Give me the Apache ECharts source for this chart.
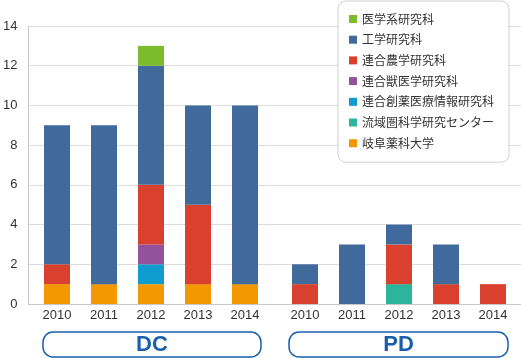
<!DOCTYPE html>
<html>
<head>
<meta charset="utf-8">
<script src="https://cdn.jsdelivr.net/npm/echarts@6/dist/echarts.min.js"></script>
<style>
html,body{margin:0;padding:0;background:#fff;}
#c{width:521px;height:358px;}
</style>
</head>
<body>
<div id="c"></div>
<script>
// ---- data ----
const years = ['2010', '2011', '2012', '2013', '2014'];
const groups = ['DC', 'PD'];
const yTicks = [0, 2, 4, 6, 8, 10, 12, 14];
// legend order (top to bottom)
const legendNames = ['医学系研究科', '工学研究科', '連合農学研究科', '連合獣医学研究科', '連合創薬医療情報研究科', '流域圏科学研究センター', '岐阜薬科大学'];
// stack order (bottom to top)
const stackNames = ['岐阜薬科大学', '流域圏科学研究センター', '連合創薬医療情報研究科', '連合獣医学研究科', '連合農学研究科', '工学研究科', '医学系研究科'];
const colors = {
  '医学系研究科': '#7cbb2c',
  '工学研究科': '#3f6a9b',
  '連合農学研究科': '#d9402d',
  '連合獣医学研究科': '#93529b',
  '連合創薬医療情報研究科': '#0f9ccf',
  '流域圏科学研究センター': '#2bb59c',
  '岐阜薬科大学': '#f39800'
};
// DC values by institution (2010..2014)
const dcGifuPharm  = [1, 1, 1, 1, 1];
const dcRyuiki     = [0, 0, 0, 0, 0];
const dcSoyaku     = [0, 0, 1, 0, 0];
const dcJui        = [0, 0, 1, 0, 0];
const dcNogaku     = [1, 0, 3, 4, 0];
const dcKogaku     = [7, 8, 6, 5, 9];
const dcIgaku      = [0, 0, 1, 0, 0];
// PD values by institution (2010..2014)
const pdGifuPharm  = [0, 0, 0, 0, 0];
const pdRyuiki     = [0, 0, 1, 0, 0];
const pdSoyaku     = [0, 0, 0, 0, 0];
const pdJui        = [0, 0, 0, 0, 0];
const pdNogaku     = [1, 0, 2, 1, 1];
const pdKogaku     = [1, 3, 1, 2, 0];
const pdIgaku      = [0, 0, 0, 0, 0];

const dcData = [dcGifuPharm, dcRyuiki, dcSoyaku, dcJui, dcNogaku, dcKogaku, dcIgaku];
const pdData = [pdGifuPharm, pdRyuiki, pdSoyaku, pdJui, pdNogaku, pdKogaku, pdIgaku];

const TOP = 26, BOTTOM = 54;
const labelFont = '"Liberation Sans", Arial, sans-serif';
const jpFont = '"Noto Sans CJK JP", sans-serif';

function mkSeries(data, gi, stackId) {
  return stackNames.map((n, i) => ({
    name: n,
    type: 'bar',
    stack: stackId,
    xAxisIndex: gi,
    yAxisIndex: gi,
    barWidth: 26,
    itemStyle: { color: colors[n] },
    data: data[i].map(v => v === 0 ? null : v),
    animation: false
  }));
}

const chart = echarts.init(document.getElementById('c'));
chart.setOption({
  animation: false,
  grid: [
    { left: 26, right: 0, top: TOP, bottom: BOTTOM },
    { left: 33.5, width: 235, top: TOP, bottom: BOTTOM },
    { left: 281.5, width: 235, top: TOP, bottom: BOTTOM }
  ],
  xAxis: [
    { gridIndex: 0, type: 'value', min: 0, max: 1,
      axisLine: { show: true, lineStyle: { color: '#c8c8c8', width: 1 } },
      axisTick: { show: false }, axisLabel: { show: false }, splitLine: { show: false } },
    { gridIndex: 1, type: 'category', data: years,
      axisLine: { show: false }, axisTick: { show: false },
      axisLabel: { color: '#333', fontSize: 13, fontFamily: labelFont, margin: 5 } },
    { gridIndex: 2, type: 'category', data: years,
      axisLine: { show: false }, axisTick: { show: false },
      axisLabel: { color: '#333', fontSize: 13, fontFamily: labelFont, margin: 5 } }
  ],
  yAxis: [
    { gridIndex: 0, type: 'value', min: yTicks[0], max: yTicks[yTicks.length - 1], interval: yTicks[1] - yTicks[0],
      axisLine: { show: true, lineStyle: { color: '#c8c8c8' } },
      axisTick: { show: false },
      axisLabel: { color: '#333', fontSize: 13, fontFamily: labelFont, margin: 11 },
      splitLine: { lineStyle: { color: '#dcdcdc' } } },
    { gridIndex: 1, type: 'value', min: 0, max: 14, show: false },
    { gridIndex: 2, type: 'value', min: 0, max: 14, show: false }
  ],
  legend: {
    orient: 'vertical',
    left: 338, top: 1,
    data: legendNames,
    icon: 'rect',
    itemWidth: 8, itemHeight: 8,
    itemGap: 8.7,
    padding: [12, 15, 13, 11],
    backgroundColor: '#fff',
    borderColor: '#cfcfcf',
    borderWidth: 1,
    borderRadius: 8,
    textStyle: { color: '#333', fontSize: 12, fontFamily: jpFont, lineHeight: 12 }
  },
  series: [].concat(mkSeries(dcData, 1, 'dc'), mkSeries(pdData, 2, 'pd')),
  graphic: [
    { type: 'rect', shape: { x: 43, y: 332, width: 218, height: 25, r: 10 },
      style: { fill: '#fff', stroke: '#1a5fae', lineWidth: 1.5 } },
    { type: 'text', x: 152, y: 345,
      style: { text: groups[0], fill: '#1a5fae', font: 'bold 22px "Liberation Sans", Arial, sans-serif', textAlign: 'center', textVerticalAlign: 'middle' } },
    { type: 'rect', shape: { x: 289, y: 332, width: 219, height: 25, r: 10 },
      style: { fill: '#fff', stroke: '#1a5fae', lineWidth: 1.5 } },
    { type: 'text', x: 398.5, y: 345,
      style: { text: groups[1], fill: '#1a5fae', font: 'bold 22px "Liberation Sans", Arial, sans-serif', textAlign: 'center', textVerticalAlign: 'middle' } }
  ]
});
</script>
</body>
</html>
